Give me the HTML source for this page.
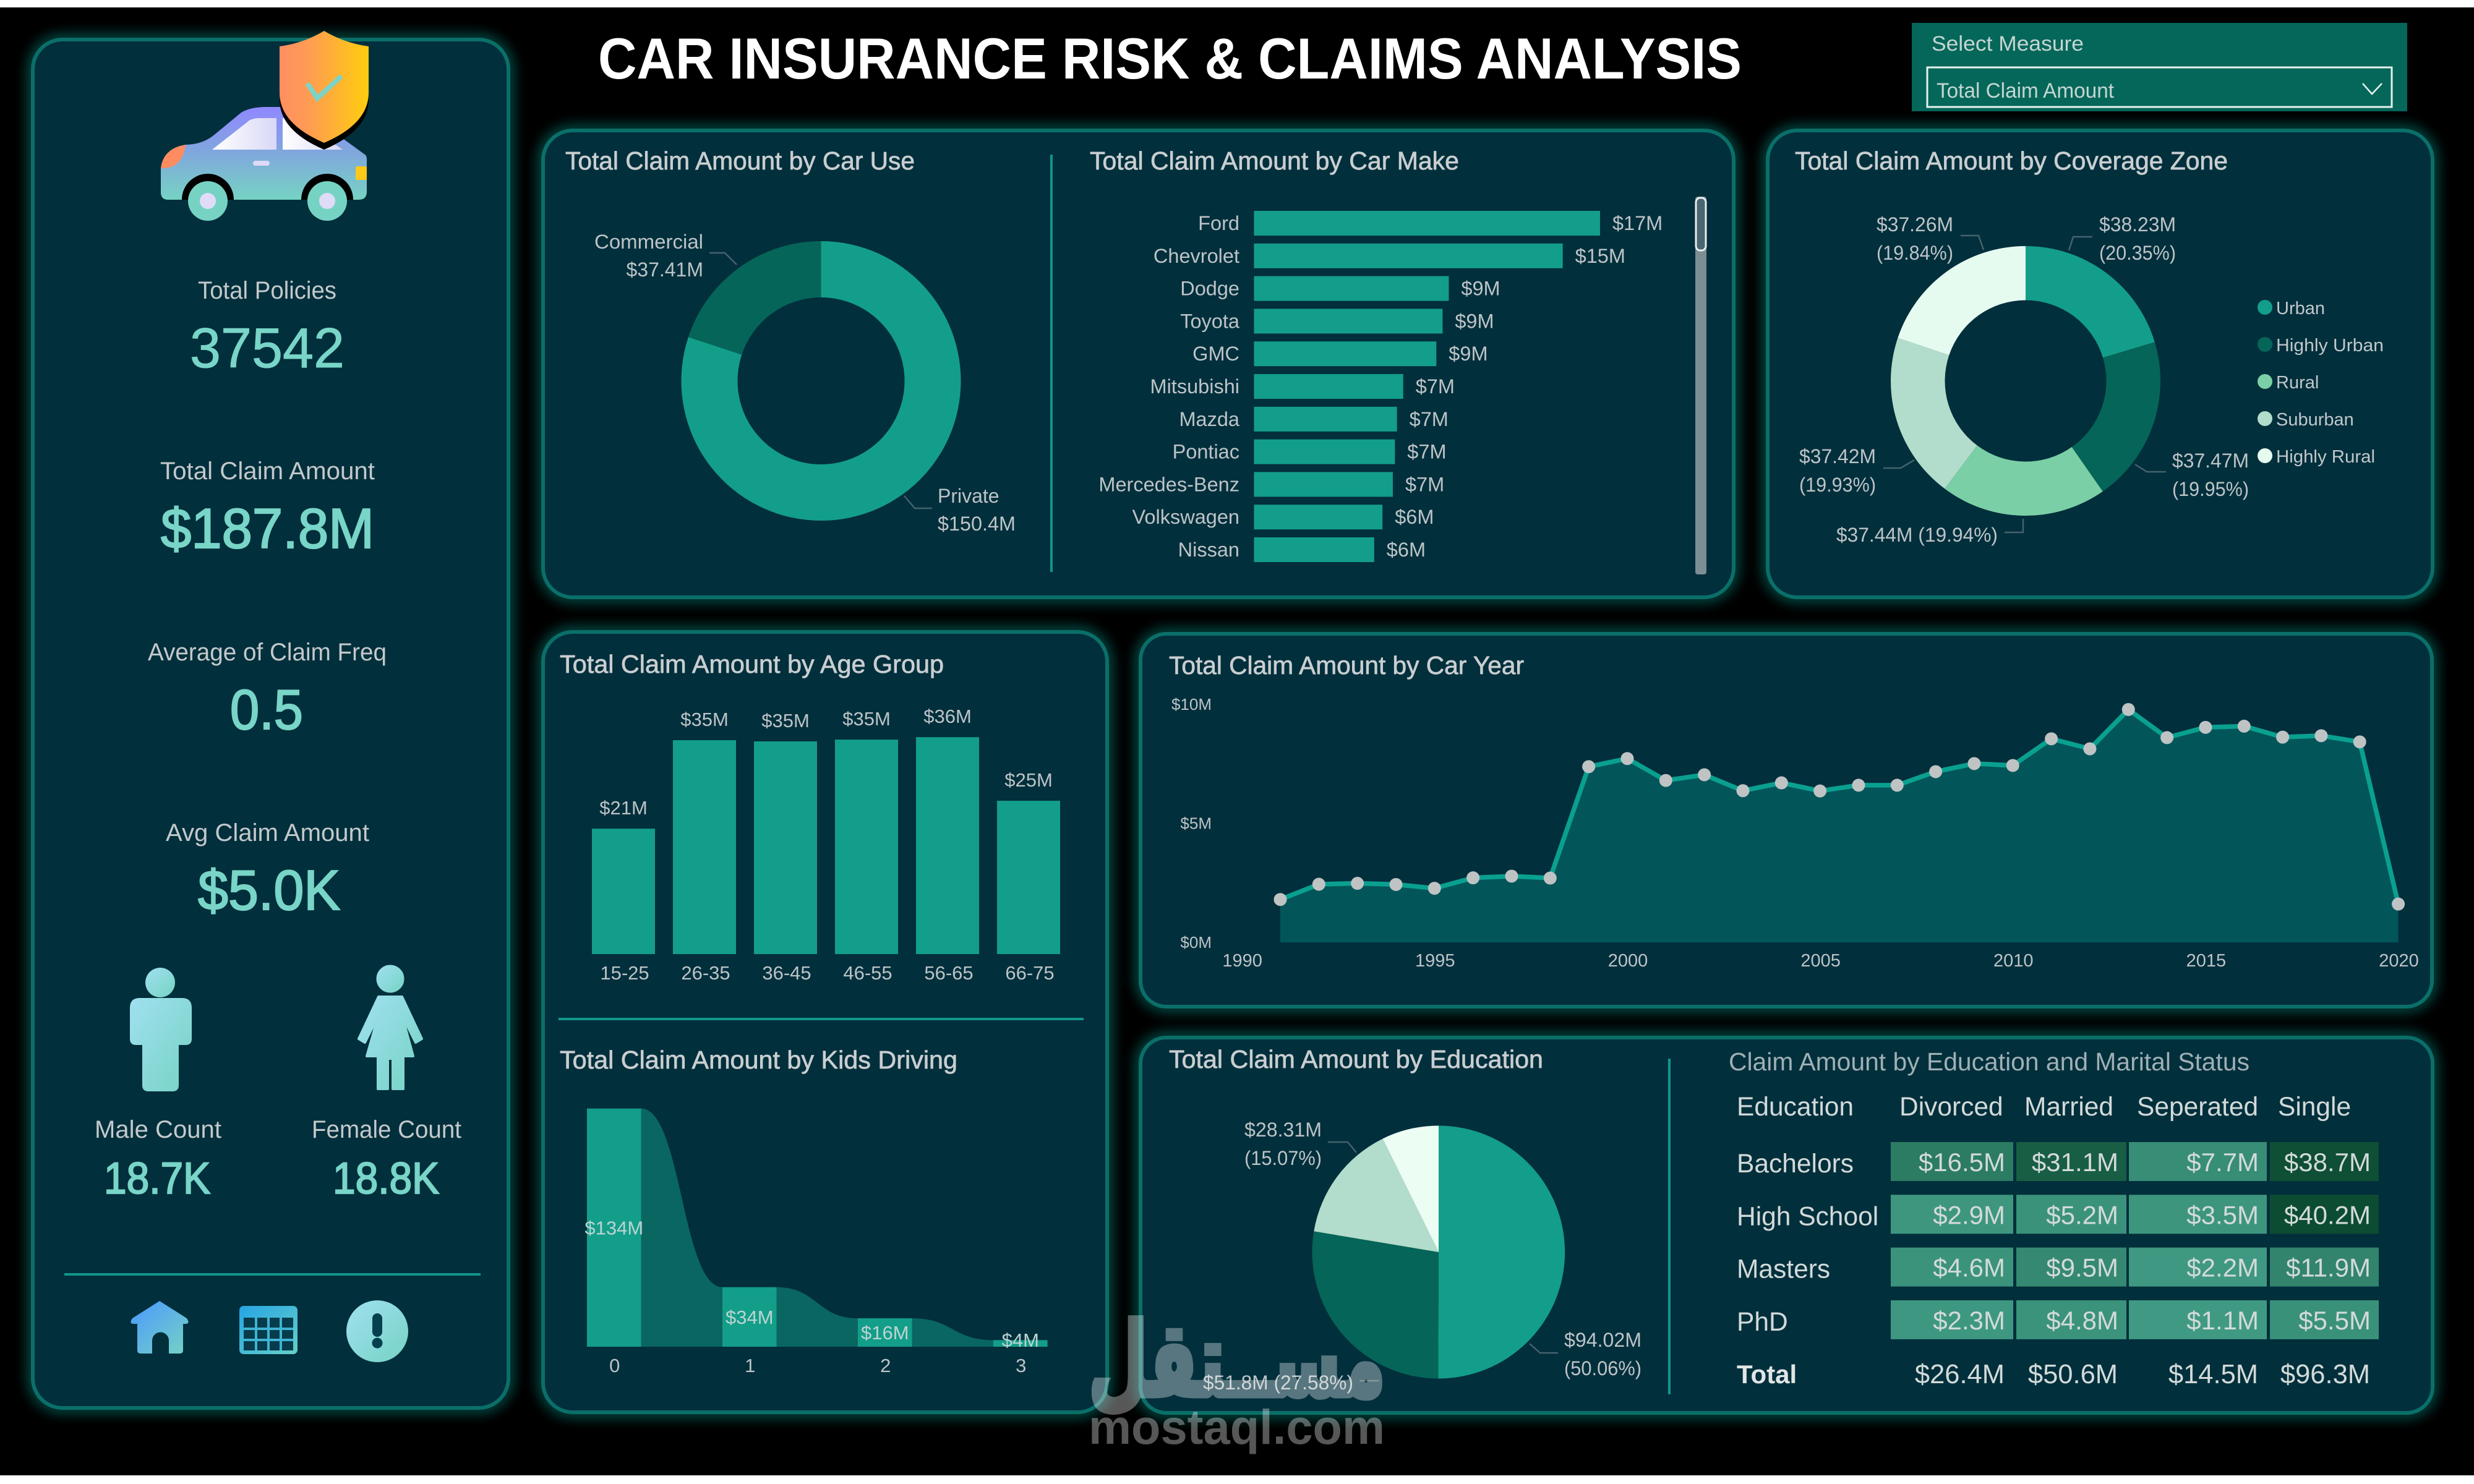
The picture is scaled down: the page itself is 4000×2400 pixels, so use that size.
<!DOCTYPE html>
<html lang="en">
<head>
<meta charset="utf-8">
<title>Car Insurance Risk &amp; Claims Analysis</title>
<style>
html,body{margin:0;padding:0;background:#fff;width:4000px;height:2400px;overflow:hidden}
svg{display:block}
text{font-family:"Liberation Sans","DejaVu Sans",sans-serif}
.title{font-size:41px;fill:#c9ced0;stroke:#c9ced0;stroke-width:.7px}
.kl{font-size:40px;fill:#c3c9cb}
.kv{fill:#78d5c7;stroke:#78d5c7;stroke-width:1px}
.kvb{stroke-width:2.2px}
.lb{font-size:32px;fill:#bcc4c7}
.leader{fill:none;stroke:#45626b;stroke-width:2.5}
.leg{font-size:29px;fill:#c0c8ca}
.mx{font-size:41px;fill:#d2dad9}
.panel{fill:#022f3c;stroke:#0b6f69;stroke-width:6}
.glow{fill:none;stroke:#0f8f84;stroke-width:10}
.sep{stroke:#11978a;stroke-width:4}
</style>
</head>
<body>
<svg xmlns="http://www.w3.org/2000/svg" width="4000" height="2400" viewBox="0 0 4000 2400">
<defs>
<filter id="gl" x="-10%" y="-10%" width="120%" height="120%"><feGaussianBlur stdDeviation="11"/></filter>
<linearGradient id="gBody" x1="0" y1="0" x2="0" y2="1"><stop offset="0" stop-color="#9088ff"/><stop offset=".5" stop-color="#80a8dc"/><stop offset="1" stop-color="#76d3c4"/></linearGradient>
<linearGradient id="gWin" x1="0" y1="0" x2="1" y2="0"><stop offset="0" stop-color="#ffffff"/><stop offset="1" stop-color="#d9d8f6"/></linearGradient>
<linearGradient id="gShield" x1="0" y1="0" x2="1" y2="0"><stop offset="0" stop-color="#ff8f62"/><stop offset=".3" stop-color="#ff9a55"/><stop offset="1" stop-color="#ffcd0d"/></linearGradient>
<linearGradient id="gPerson" x1="0" y1="0" x2="1" y2="1"><stop offset="0" stop-color="#a0e0f0"/><stop offset="1" stop-color="#76d3c4"/></linearGradient>
<linearGradient id="gHome" x1="0" y1="0" x2="1" y2="1"><stop offset="0" stop-color="#4a98ff"/><stop offset="1" stop-color="#76d3c4"/></linearGradient>
<linearGradient id="gTable" x1="0" y1="0" x2="1" y2="1"><stop offset="0" stop-color="#26a5e4"/><stop offset="1" stop-color="#66cfc8"/></linearGradient>
</defs>

<rect width="4000" height="2400" fill="#000"/>
<rect width="4000" height="12" fill="#fff"/>
<rect y="2386" width="4000" height="14" fill="#fff"/>

<!-- panel glows + panels -->
<g filter="url(#gl)">
<rect class="glow" x="53" y="64" width="769" height="2213" rx="48"/>
<rect class="glow" x="878" y="211" width="1925" height="755" rx="48"/>
<rect class="glow" x="2858" y="211" width="1075" height="755" rx="48"/>
<rect class="glow" x="878" y="1022" width="912" height="1262" rx="48"/>
<rect class="glow" x="1844" y="1025" width="2088" height="603" rx="42"/>
<rect class="glow" x="1844" y="1678" width="2089" height="607" rx="42"/>
</g>
<rect class="panel" x="53" y="64" width="769" height="2213" rx="48"/>
<rect class="panel" x="878" y="211" width="1925" height="755" rx="48"/>
<rect class="panel" x="2858" y="211" width="1075" height="755" rx="48"/>
<rect class="panel" x="878" y="1022" width="912" height="1262" rx="48"/>
<rect class="panel" x="1844" y="1025" width="2088" height="603" rx="42"/>
<rect class="panel" x="1844" y="1678" width="2089" height="607" rx="42"/>

<!-- header -->
<text x="967" y="127" font-size="94" font-weight="700" fill="#fff" textLength="1849" lengthAdjust="spacingAndGlyphs">CAR INSURANCE RISK &amp; CLAIMS ANALYSIS</text>
<g>
<rect x="3091" y="37" width="801" height="143" fill="#05675a"/>
<text x="3123" y="82" font-size="34" fill="#c5d6d2" textLength="246" lengthAdjust="spacingAndGlyphs">Select Measure</text>
<rect x="3116" y="109" width="751" height="64" fill="none" stroke="#e6f2ef" stroke-width="3"/>
<text x="3131" y="158" font-size="34" fill="#c5d6d2" textLength="287" lengthAdjust="spacingAndGlyphs">Total Claim Amount</text>
<polyline points="3820,135 3835,152 3851,135" fill="none" stroke="#e6f2ef" stroke-width="2.5"/>
</g>

<!-- car + shield icon -->
<g>
<path d="M272 323Q260 323 260 311V272Q264 240 300 234Q325 234 344 220L390 182Q405 173 430 173H470L557 226L590 250Q593 252 593 258V310Q593 323 580 323Z" fill="url(#gBody)"/>
<path d="M260 272Q264 240 300 234Q296 268 268 272Z" fill="#ff8c60"/>
<rect x="575" y="269" width="18" height="22" rx="2" fill="#ffc81a"/>
<path d="M343 242L399 198Q406 191 420 191H447V242Z" fill="url(#gWin)"/>
<path d="M457 191H480L554 242H457Z" fill="url(#gWin)"/>
<rect x="409" y="260" width="27" height="8" rx="4" fill="#dcdaf6"/>
<path d="M294 323A42 42 0 0 1 378 323Z" fill="#000"/>
<path d="M487 323A42 42 0 0 1 571 323Z" fill="#000"/>
<circle cx="336" cy="325" r="32" fill="#76d3c4"/><circle cx="336" cy="325" r="13" fill="#e0dcf8"/>
<circle cx="529" cy="325" r="32" fill="#76d3c4"/><circle cx="529" cy="325" r="13" fill="#e0dcf8"/>
<path d="M524 61Q490 81 452 86V161Q452 211 524 242Q596 211 596 161V86Q558 81 524 61Z" fill="#000"/>
<path d="M524 50Q490 70 452 75V150Q452 200 524 231Q596 200 596 150V75Q558 70 524 50Z" fill="url(#gShield)"/>
<polyline points="497,135 513,159 552,123" fill="none" stroke="#7dd3c5" stroke-width="8"/>
</g>

<!-- KPI cards -->
<text class="kl" x="320" y="483" textLength="224" lengthAdjust="spacingAndGlyphs">Total Policies</text>
<text class="kv" x="307" y="594" font-size="91" textLength="250" lengthAdjust="spacingAndGlyphs">37542</text>
<text class="kl" x="259" y="775" textLength="347" lengthAdjust="spacingAndGlyphs">Total Claim Amount</text>
<text class="kv kvb" x="260" y="886" font-size="91" textLength="345" lengthAdjust="spacingAndGlyphs">$187.8M</text>
<text class="kl" x="239" y="1068" textLength="386" lengthAdjust="spacingAndGlyphs">Average of Claim Freq</text>
<text class="kv kvb" x="372" y="1179" font-size="91" textLength="118" lengthAdjust="spacingAndGlyphs">0.5</text>
<text class="kl" x="268" y="1360" textLength="329" lengthAdjust="spacingAndGlyphs">Avg Claim Amount</text>
<text class="kv kvb" x="320" y="1471" font-size="91" textLength="230" lengthAdjust="spacingAndGlyphs">$5.0K</text>

<g fill="url(#gPerson)">
<circle cx="259" cy="1589" r="24"/>
<path d="M226 1614H294Q310 1614 310 1630V1680Q310 1690 300 1690H289V1755Q289 1765 279 1765H240Q230 1765 230 1755V1690H220Q210 1690 210 1680V1630Q210 1614 226 1614Z"/>
</g>
<g fill="url(#gPerson)" stroke="url(#gPerson)" stroke-linejoin="round">
<circle cx="631" cy="1583" r="22"/>
<path stroke-width="4" d="M612 1612L650 1612L682 1680L672 1686L650 1642L668 1708L652 1708L652 1761L635 1761L635 1712L627 1712L627 1761L611 1761L611 1708L593 1708L612 1642L590 1686L580 1680Z"/>
</g>
<text class="kl" x="153" y="1840" textLength="205" lengthAdjust="spacingAndGlyphs">Male Count</text>
<text class="kv kvb" x="168" y="1930" font-size="71" textLength="172" lengthAdjust="spacingAndGlyphs">18.7K</text>
<text class="kl" x="504" y="1840" textLength="242" lengthAdjust="spacingAndGlyphs">Female Count</text>
<text class="kv kvb" x="538" y="1930" font-size="71" textLength="172" lengthAdjust="spacingAndGlyphs">18.8K</text>
<line class="sep" x1="104" y1="2061" x2="777" y2="2061"/>

<!-- nav icons -->
<path d="M258 2104L302 2132Q308 2141 300 2141H296V2184Q296 2189 290 2189H273V2168A13.5 13.5 0 0 0 246 2168V2189H228Q222 2189 222 2184V2141H216Q208 2141 214 2132Z" fill="url(#gHome)"/>
<g>
<rect x="387" y="2112" width="94" height="78" rx="7" fill="url(#gTable)"/>
<rect x="394" y="2131" width="80" height="53" fill="#063c4c"/>
<g stroke="#3fb4d4" stroke-width="4"><line x1="414" y1="2131" x2="414" y2="2184"/><line x1="434" y1="2131" x2="434" y2="2184"/><line x1="454" y1="2131" x2="454" y2="2184"/><line x1="394" y1="2149" x2="474" y2="2149"/><line x1="394" y1="2167" x2="474" y2="2167"/></g>
</g>
<g>
<circle cx="610" cy="2153" r="50" fill="url(#gPerson)"/>
<rect x="602" y="2124" width="16" height="38" rx="8" fill="#06404e"/>
<circle cx="610" cy="2172" r="8.5" fill="#06404e"/>
</g>

<!-- Panel titles + separators -->
<text class="title" x="914" y="274" textLength="565" lengthAdjust="spacingAndGlyphs">Total Claim Amount by Car Use</text>
<line class="sep" x1="1700" y1="250" x2="1700" y2="925"/>
<text class="title" x="1762" y="274" textLength="597" lengthAdjust="spacingAndGlyphs">Total Claim Amount by Car Make</text>
<text class="title" x="2902" y="274" textLength="700" lengthAdjust="spacingAndGlyphs">Total Claim Amount by Coverage Zone</text>
<text class="title" x="905" y="1088" textLength="621" lengthAdjust="spacingAndGlyphs">Total Claim Amount by Age Group</text>
<line class="sep" x1="903" y1="1648" x2="1752" y2="1648"/>
<text class="title" x="905" y="1728" textLength="643" lengthAdjust="spacingAndGlyphs">Total Claim Amount by Kids Driving</text>
<text class="title" x="1890" y="1090" textLength="574" lengthAdjust="spacingAndGlyphs">Total Claim Amount by Car Year</text>
<text class="title" x="1890" y="1727" textLength="605" lengthAdjust="spacingAndGlyphs">Total Claim Amount by Education</text>
<line class="sep" x1="2699" y1="1712" x2="2699" y2="2255" stroke-width="3"/>
<text x="2795" y="1731" font-size="41" fill="#9fb0b5" textLength="842" lengthAdjust="spacingAndGlyphs">Claim Amount by Education and Marital Status</text>

<!-- chart mark groups -->
<g id="carUseChart"></g>
<g id="makeChart"></g>
<g id="zoneChart"></g>
<g id="ageChart"></g>
<g id="kidsChart"></g>
<g id="yearChart"></g>
<g id="eduChart"></g>
<g id="matrix"></g>

<!-- scrollbar -->
<rect x="2741" y="318" width="18" height="611" rx="4" fill="#7c8e93"/>
<rect x="2742" y="320" width="16" height="85" rx="7" fill="#4a6670" stroke="#e8eeee" stroke-width="3"/>

<!-- Car use labels -->
<text class="lb" x="1137" y="402" text-anchor="end" textLength="176" lengthAdjust="spacingAndGlyphs">Commercial</text>
<text class="lb" x="1137" y="447" text-anchor="end">$37.41M</text>
<polyline class="leader" points="1147,409 1172,409 1191,428"/>
<text class="lb" x="1516" y="813">Private</text>
<text class="lb" x="1516" y="858" textLength="126" lengthAdjust="spacingAndGlyphs">$150.4M</text>
<polyline class="leader" points="1462,802 1479,822 1507,822"/>

<!-- Coverage labels -->
<text class="lb" x="3394" y="374" textLength="124" lengthAdjust="spacingAndGlyphs">$38.23M</text>
<text class="lb" x="3394" y="420" textLength="124" lengthAdjust="spacingAndGlyphs">(20.35%)</text>
<polyline class="leader" points="3345,405 3352,383 3383,383"/>
<text class="lb" x="3034" y="374" textLength="124" lengthAdjust="spacingAndGlyphs">$37.26M</text>
<text class="lb" x="3034" y="420" textLength="124" lengthAdjust="spacingAndGlyphs">(19.84%)</text>
<polyline class="leader" points="3207,404 3199,381 3170,381"/>
<text class="lb" x="2909" y="749" textLength="124" lengthAdjust="spacingAndGlyphs">$37.42M</text>
<text class="lb" x="2909" y="795" textLength="124" lengthAdjust="spacingAndGlyphs">(19.93%)</text>
<polyline class="leader" points="3095,744 3073,757 3045,757"/>
<text class="lb" x="3512" y="756" textLength="124" lengthAdjust="spacingAndGlyphs">$37.47M</text>
<text class="lb" x="3512" y="802" textLength="124" lengthAdjust="spacingAndGlyphs">(19.95%)</text>
<polyline class="leader" points="3452,751 3471,763 3502,763"/>
<text class="lb" x="2969" y="876" textLength="261" lengthAdjust="spacingAndGlyphs">$37.44M (19.94%)</text>
<polyline class="leader" points="3271,839 3271,861 3241,861"/>

<!-- Legend -->
<g>
<circle cx="3662" cy="497" r="12" fill="#139e8a"/><text class="leg" x="3680" y="508">Urban</text>
<circle cx="3662" cy="557" r="12" fill="#056558"/><text class="leg" x="3680" y="568" textLength="174" lengthAdjust="spacingAndGlyphs">Highly Urban</text>
<circle cx="3662" cy="617" r="12" fill="#7bcfa6"/><text class="leg" x="3680" y="628">Rural</text>
<circle cx="3662" cy="677" r="12" fill="#b2dccb"/><text class="leg" x="3680" y="688">Suburban</text>
<circle cx="3662" cy="737" r="12" fill="#e6fbf0"/><text class="leg" x="3680" y="748" textLength="160" lengthAdjust="spacingAndGlyphs">Highly Rural</text>
</g>

<!-- Education labels -->
<text class="lb" x="2529" y="2178" textLength="125" lengthAdjust="spacingAndGlyphs">$94.02M</text>
<text class="lb" x="2529" y="2224" textLength="125" lengthAdjust="spacingAndGlyphs">(50.06%)</text>
<polyline class="leader" points="2473,2173 2490,2188 2519,2188"/>
<text class="lb" x="2012" y="1838" textLength="125" lengthAdjust="spacingAndGlyphs">$28.31M</text>
<text class="lb" x="2012" y="1884" textLength="125" lengthAdjust="spacingAndGlyphs">(15.07%)</text>
<polyline class="leader" points="2147,1847 2179,1847 2193,1864"/>
<text class="lb" x="1945" y="2247" textLength="243" lengthAdjust="spacingAndGlyphs">$51.8M (27.58%)</text>
<polyline class="leader" points="2198,2233 2230,2233"/>

<!-- Watermark -->
<g fill="#fff" opacity=".34">
<text x="1760" y="2257" font-size="165" font-weight="700" stroke="#fff" stroke-width="9" style="font-family:'DejaVu Sans',sans-serif" textLength="480" lengthAdjust="spacingAndGlyphs">مســتقل</text>
<text x="1760" y="2335" font-size="79" font-weight="700" textLength="479" lengthAdjust="spacingAndGlyphs">mostaql.com</text>
</g>
</svg>

<script>
// ---------- chart data ----------
const carUseCategories = ['Private', 'Commercial'];
const carUseValues = [150.4, 37.41];

const makeCategories = ['Ford', 'Chevrolet', 'Dodge', 'Toyota', 'GMC', 'Mitsubishi', 'Mazda', 'Pontiac', 'Mercedes-Benz', 'Volkswagen', 'Nissan'];
const makeValues = [16.7, 14.9, 9.4, 9.1, 8.8, 7.2, 6.9, 6.8, 6.7, 6.2, 5.8];

const zoneCategories = ['Urban', 'Highly Urban', 'Rural', 'Suburban', 'Highly Rural'];
const zoneValues = [38.23, 37.47, 37.44, 37.42, 37.26];

const ageCategories = ['15-25', '26-35', '36-45', '46-55', '56-65', '66-75'];
const ageValues = [20.7, 35.3, 35.1, 35.4, 35.8, 25.3];

const kidsCategories = ['0', '1', '2', '3'];
const kidsValues = [134, 33.5, 16, 3.7];

const yearCategories = [1991, 1992, 1993, 1994, 1995, 1996, 1997, 1998, 1999, 2000, 2001, 2002, 2003, 2004, 2005, 2006, 2007, 2008, 2009, 2010, 2011, 2012, 2013, 2014, 2015, 2016, 2017, 2018, 2019, 2020];
const yearValues = [1.8, 2.44, 2.48, 2.43, 2.27, 2.71, 2.78, 2.7, 7.38, 7.72, 6.8, 7.04, 6.37, 6.7, 6.36, 6.6, 6.6, 7.17, 7.51, 7.43, 8.55, 8.13, 9.78, 8.6, 9.03, 9.08, 8.62, 8.68, 8.42, 1.61];
const yearXTicks = [1990, 1995, 2000, 2005, 2010, 2015, 2020];
const yearYTicks = [0, 5, 10];

const eduCategories = ['Bachelors', 'High School', 'Masters', 'PhD'];
const eduValues = [94.02, 51.8, 28.31, 13.7];

const maritalCategories = ['Divorced', 'Married', 'Seperated', 'Single'];
const bachelorsValues = [16.5, 31.1, 7.7, 38.7];
const highSchoolValues = [2.9, 5.2, 3.5, 40.2];
const mastersValues = [4.6, 9.5, 2.2, 11.9];
const phdValues = [2.3, 4.8, 1.1, 5.5];
const maritalTotals = [26.4, 50.6, 14.5, 96.3];

// ---------- helpers ----------
const NS = 'http://www.w3.org/2000/svg';
const BAR = '#139e8a', DARK = '#056558';
function mk(parent, tag, props, txt) {
  const el = document.createElementNS(NS, tag);
  for (const k in props) el.setAttribute(k, props[k]);
  if (txt !== undefined) el.textContent = txt;
  parent.appendChild(el);
  return el;
}
function slicePath(cx, cy, ro, ri, a0, a1) {
  const p = (r, a) => (cx + r * Math.sin(a)).toFixed(2) + ' ' + (cy - r * Math.cos(a)).toFixed(2);
  const big = a1 - a0 > Math.PI ? 1 : 0;
  if (ri === 0) return 'M' + cx + ' ' + cy + 'L' + p(ro, a0) + 'A' + ro + ' ' + ro + ' 0 ' + big + ' 1 ' + p(ro, a1) + 'Z';
  return 'M' + p(ro, a0) + 'A' + ro + ' ' + ro + ' 0 ' + big + ' 1 ' + p(ro, a1) +
    'L' + p(ri, a1) + 'A' + ri + ' ' + ri + ' 0 ' + big + ' 0 ' + p(ri, a0) + 'Z';
}
function angleSpans(values) {
  const total = values.reduce((s, v) => s + v, 0);
  let acc = 0;
  return values.map(v => {
    const a0 = acc / total * Math.PI * 2;
    acc += v;
    return [a0, acc / total * Math.PI * 2];
  });
}

// ---------- car use donut ----------
(function () {
  const g = document.getElementById('carUseChart');
  const colors = [BAR, DARK];
  angleSpans(carUseValues).forEach((s, i) => {
    const el = mk(g, 'path', { d: slicePath(1327.5, 616, 226, 135, s[0], s[1]), fill: colors[i] });
    
    
  });
})();

// ---------- car make bars ----------
(function () {
  const g = document.getElementById('makeChart');
  const x = v => v * 33.5;
  const y = i => 361 + i * 52.8;
  makeCategories.forEach((c, i) => {
    const r = mk(g, 'rect', { x: 2027.5, y: y(i) - 20, width: x(makeValues[i]), height: 40, fill: BAR });
    
    
    const t = mk(g, 'text', { x: 2004, y: y(i) + 11, 'text-anchor': 'end', 'font-size': 32.5, fill: '#bcc4c7' }, c);
    
    
    const v = mk(g, 'text', { x: 2027.5 + x(makeValues[i]) + 20, y: y(i) + 11, 'font-size': 32.5, fill: '#bcc4c7' }, '$' + Math.round(makeValues[i]) + 'M');
    
    
  });
})();

// ---------- coverage zone donut ----------
(function () {
  const g = document.getElementById('zoneChart');
  const colors = [BAR, DARK, '#7bcfa6', '#b2dccb', '#e6fbf0'];
  angleSpans(zoneValues).forEach((s, i) => {
    const el = mk(g, 'path', { d: slicePath(3275, 616, 218, 130.5, s[0], s[1]), fill: colors[i] });
    
    
  });
})();

// ---------- age group bars ----------
(function () {
  const g = document.getElementById('ageChart');
  const base = 1543;
  const h = v => v * 9.8;
  const x = i => 957 + i * 131;
  ageCategories.forEach((c, i) => {
    const r = mk(g, 'rect', { x: x(i), y: base - h(ageValues[i]), width: 102, height: h(ageValues[i]), fill: BAR });
    
    
    const v = mk(g, 'text', { x: x(i) + 51, y: base - h(ageValues[i]) - 23, 'text-anchor': 'middle', 'font-size': 31, fill: '#bcc4c7' }, '$' + Math.round(ageValues[i]) + 'M');
    
    
    const t = mk(g, 'text', { x: x(i) + 53, y: 1584, 'text-anchor': 'middle', 'font-size': 31, fill: '#bcc4c7' }, c);
    
    
  });
})();

// ---------- kids driving ribbon ----------
(function () {
  const g = document.getElementById('kidsChart');
  const base = 2178, w = 87.6;
  const x = i => 949 + i * 219;
  const y = v => base - v * 2.875;
  for (let i = 0; i < kidsValues.length - 1; i++) {
    const x0 = x(i) + w, x1 = x(i + 1), m = (x0 + x1) / 2;
    const p = mk(g, 'path', {
      d: 'M' + x0 + ' ' + y(kidsValues[i]) + 'C' + m + ' ' + y(kidsValues[i]) + ' ' + m + ' ' + y(kidsValues[i + 1]) + ' ' + x1 + ' ' + y(kidsValues[i + 1]) + 'L' + x1 + ' ' + base + 'L' + x0 + ' ' + base + 'Z',
      fill: '#0a6661'
    });
    
    
  }
  kidsCategories.forEach((c, i) => {
    const r = mk(g, 'rect', { x: x(i), y: y(kidsValues[i]), width: w, height: base - y(kidsValues[i]), fill: BAR });
    
    
    const ty = Math.min((y(kidsValues[i]) + base) / 2 + 11, base);
    const v = mk(g, 'text', { x: x(i) + w / 2, y: ty, 'text-anchor': 'middle', 'font-size': 31, fill: '#bcd4d0' }, '$' + Math.round(kidsValues[i]) + 'M');
    
    
    const t = mk(g, 'text', { x: x(i) + w / 2 + 1, y: 2219, 'text-anchor': 'middle', 'font-size': 31, fill: '#bcc4c7' }, c);
    
    
  });
})();

// ---------- car year area ----------
(function () {
  const g = document.getElementById('yearChart');
  const x = yr => 2070 + (yr - 1991) * 62.33;
  const y = v => 1524 - v * 38.5;
  const pts = yearCategories.map((yr, i) => x(yr).toFixed(1) + ',' + y(yearValues[i]).toFixed(1));
  const first = yearCategories[0], last = yearCategories[yearCategories.length - 1];
  const area = mk(g, 'path', { d: 'M' + x(first) + ',' + y(0) + 'L' + pts.join('L') + 'L' + x(last) + ',' + y(0) + 'Z', fill: '#02565a' });
  
  
  const line = mk(g, 'polyline', { points: pts.join(' '), fill: 'none', stroke: '#0aa090', 'stroke-width': 7.5 });
  
  
  yearCategories.forEach((yr, i) => {
    const c = mk(g, 'circle', { cx: x(yr), cy: y(yearValues[i]), r: 10.5, fill: '#bfc3c4' });
    
    
  });
  yearXTicks.forEach(t => {
    const el = mk(g, 'text', { x: x(t) + 1, y: 1563, 'text-anchor': 'middle', 'font-size': 29, fill: '#bcc4c7' }, String(t));
    
    
  });
  yearYTicks.forEach(t => {
    const el = mk(g, 'text', { x: 1959, y: y(t) + 9, 'text-anchor': 'end', 'font-size': 26, fill: '#bcc4c7' }, '$' + t + 'M');
    
    
  });
})();

// ---------- education pie ----------
(function () {
  const g = document.getElementById('eduChart');
  const colors = [BAR, DARK, '#b2dccb', '#ecfdf3'];
  angleSpans(eduValues).forEach((s, i) => {
    const el = mk(g, 'path', { d: slicePath(2326, 2025, 204.5, 0, s[0], s[1]), fill: colors[i] });
    
    
  });
})();

// ---------- matrix ----------
(function () {
  const g = document.getElementById('matrix');
  const rows = [bachelorsValues, highSchoolValues, mastersValues, phdValues];
  const all = rows.flat();
  const lo = Math.min(...all), hi = Math.max(...all);
  const low = [64, 154, 131], high = [12, 76, 50];
  const colour = v => {
    const t = (v - lo) / (hi - lo);
    return 'rgb(' + low.map((c, i) => Math.round(c + (high[i] - c) * t)).join(',') + ')';
  };
  const left = c => [3057, 3260, 3442, 3670][c];
  const right = c => [3255, 3438, 3665, 3846][c];
  const headLeft = c => [3071, 3273, 3455, 3683][c];
  const rowTop = r => 1847 + r * 85.3;
  const h = mk(g, 'text', { x: 2808, y: 1804, 'font-size': 42.5, fill: '#d2dad9' }, 'Education');
  
  
  maritalCategories.forEach((c, i) => {
    const t = mk(g, 'text', { x: headLeft(i), y: 1804, 'font-size': 42.5, fill: '#d2dad9' }, c);
    
    
  });
  eduCategories.forEach((c, r) => {
    const t = mk(g, 'text', { x: 2808, y: rowTop(r) + 49, 'font-size': 42.5, fill: '#d2dad9' }, c);
    
    
    rows[r].forEach((v, col) => {
      const cell = mk(g, 'rect', { x: left(col), y: rowTop(r), width: right(col) - left(col), height: 63, fill: colour(v) });
      
      
      const lbl = mk(g, 'text', { x: right(col) - 13, y: rowTop(r) + 47, 'text-anchor': 'end', 'font-size': 42, fill: '#d2dad9' }, '$' + v.toFixed(1) + 'M');
      
      
    });
  });
  const tl = mk(g, 'text', { x: 2808, y: 2237, 'font-size': 42, 'font-weight': 700, fill: '#e0e6e5' }, 'Total');
  
  
  maritalTotals.forEach((v, col) => {
    const t = mk(g, 'text', { x: right(col) - 14, y: 2237, 'text-anchor': 'end', 'font-size': 43.5, fill: '#d2dad9' }, '$' + v.toFixed(1) + 'M');
    
    
  });
})();
</script>
</body>
</html>
